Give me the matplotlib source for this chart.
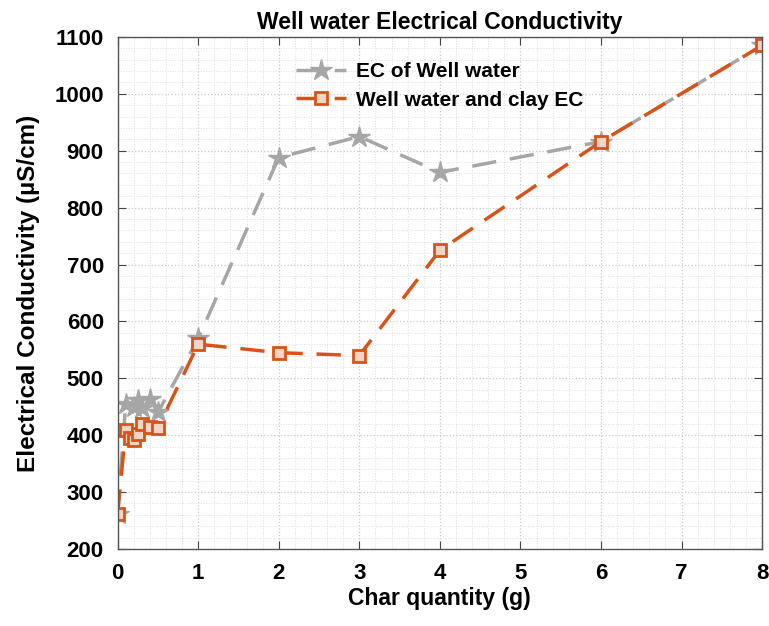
import matplotlib
matplotlib.use('Agg')
import matplotlib.pyplot as plt
from matplotlib.ticker import MultipleLocator

# char quantity (g) and EC readings (uS/cm)
x_well = [0, 0.1, 0.2, 0.25, 0.3, 0.4, 0.5, 1, 2, 3, 4, 6, 8]
ec_well = [262, 455, 450, 462, 448, 463, 440, 570, 888, 925, 862, 916, 1085]

x_clay = [0, 0.1, 0.15, 0.2, 0.25, 0.3, 0.4, 0.5, 1, 2, 3, 4, 6, 8]
ec_clay = [262, 409, 395, 392, 402, 420, 414, 413, 560, 545, 540, 725, 916, 1085]

plt.rcParams['font.family'] = ['Liberation Sans', 'DejaVu Sans']
plt.rcParams['font.weight'] = 'bold'

fig = plt.figure(figsize=(7.69, 6.26), dpi=100)
ax = fig.add_axes([0.153, 0.123, 0.838, 0.818])

dash = (0, (7, 4))
ax.plot(x_well, ec_well, linestyle=dash, color='#A6A6A6', linewidth=2.5,
        marker='*', markersize=16, markerfacecolor='#A6A6A6',
        markeredgecolor='#A6A6A6', label='EC of Well water')
ax.plot(x_clay, ec_clay, linestyle=dash, color='#D95319', linewidth=2.5,
        marker='s', markersize=8, markerfacecolor='#F3D5C8',
        markeredgecolor='#D95319', markeredgewidth=2, label='Well water and clay EC')

ax.set_xlim(0, 8)
ax.set_ylim(200, 1100)
ax.xaxis.set_major_locator(MultipleLocator(1))
ax.xaxis.set_minor_locator(MultipleLocator(0.2))
ax.yaxis.set_major_locator(MultipleLocator(100))
ax.yaxis.set_minor_locator(MultipleLocator(20))

ax.grid(True, which='major', linestyle=':', color='#C8C8C8', linewidth=0.9)
ax.grid(True, which='minor', linestyle=':', color='#DDDDDD', linewidth=0.7)
ax.tick_params(which='both', direction='in', top=True, right=True,
               labelsize=16, color='#444444')
ax.tick_params(which='minor', length=0)
ax.tick_params(which='major', length=6, pad=10)
for lbl in ax.get_xticklabels() + ax.get_yticklabels():
    lbl.set_fontweight('bold')
for sp in ax.spines.values():
    sp.set_color('#555555')
    sp.set_linewidth(1.0)

ax.set_title('Well water Electrical Conductivity', fontsize=16.5, fontweight='bold', pad=6)
ax.set_xlabel('Char quantity (g)', fontsize=16.5, fontweight='bold', labelpad=2)
ax.set_ylabel('Electrical Conductivity (µS/cm)', fontsize=17.5, fontweight='bold', labelpad=10)

leg = ax.legend(loc='upper center', bbox_to_anchor=(0.5, 0.975), frameon=False,
                fontsize=15, handlelength=2.4, handletextpad=0.5,
                labelspacing=0.45, borderaxespad=0.2)
for t in leg.get_texts():
    t.set_fontweight('bold')

fig.savefig('out.png', dpi=100)
